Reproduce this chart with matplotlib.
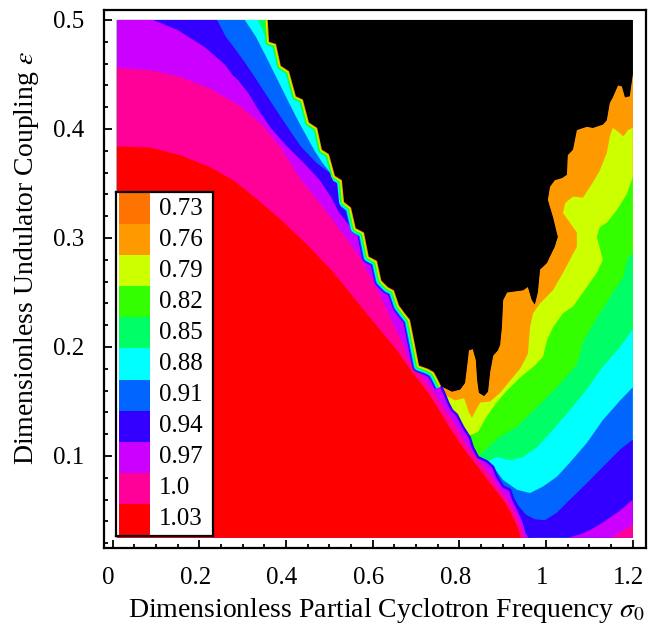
import matplotlib
matplotlib.use("Agg")
import matplotlib.pyplot as plt
from matplotlib.patches import Rectangle
from matplotlib.ticker import FixedLocator, MultipleLocator
from matplotlib.transforms import ScaledTranslation

plt.rcParams["font.family"] = ["Liberation Serif", "DejaVu Serif"]
plt.rcParams["mathtext.fontset"] = "stix"

# ------------------------------------------------------------------ data
LEVELS = [0.73, 0.76, 0.79, 0.82, 0.85, 0.88, 0.91, 0.94, 0.97, 1.00, 1.03]
LEVEL_LABELS = ["0.73", "0.76", "0.79", "0.82", "0.85", "0.88", "0.91",
                "0.94", "0.97", "1.0", "1.03"]
LEVEL_COLORS = ["#FF7300", "#FF9900", "#CCFF00", "#33FF00", "#00FF66", "#00FFFF",
                "#0066FF", "#3300FF", "#CC00FF", "#FF0099", "#FF0000"]
BELOW_COLOR = "#000000"

SIGMA_RANGE = [0.01, 1.2]      # computed domain of sigma_0
EPS_RANGE = [0.025, 0.5]       # computed domain of epsilon

X_TICKS = [0, 0.2, 0.4, 0.6, 0.8, 1.0, 1.2]
X_TICK_LABELS = ["0", "0.2", "0.4", "0.6", "0.8", "1", "1.2"]
Y_TICKS = [0.1, 0.2, 0.3, 0.4, 0.5]
Y_TICK_LABELS = ["0.1", "0.2", "0.3", "0.4", "0.5"]

# jagged ridge where most contour levels pile up (top edge -> bottom edge)
RIDGE_X = [0.358, 0.361, 0.377, 0.388, 0.407, 0.423, 0.439, 0.453, 0.472, 0.483,
           0.499, 0.513, 0.529, 0.534, 0.550, 0.561, 0.580, 0.591, 0.610, 0.620,
           0.635, 0.649, 0.661, 0.674, 0.686, 0.693, 0.700, 0.707, 0.728, 0.741,
           0.748, 0.758, 0.767, 0.774, 0.783, 0.794, 0.808, 0.824, 0.831, 0.843,
           0.864, 0.878, 0.887, 0.901, 0.917, 0.924, 0.933, 0.947, 0.956, 0.963]
RIDGE_Y = [0.500, 0.480, 0.478, 0.458, 0.453, 0.430, 0.427, 0.406, 0.401, 0.381,
           0.377, 0.357, 0.353, 0.333, 0.328, 0.309, 0.305, 0.283, 0.279, 0.261,
           0.255, 0.252, 0.238, 0.231, 0.225, 0.211, 0.197, 0.183, 0.180, 0.177,
           0.172, 0.164, 0.156, 0.149, 0.142, 0.138, 0.127, 0.117, 0.108, 0.099,
           0.095, 0.090, 0.081, 0.072, 0.069, 0.060, 0.053, 0.041, 0.029, 0.025]
RIDGE_V = 31          # lowest ridge point touching the black (< 0.73) region

# lower / right boundary of the black region, from the ridge to the right edge
BLACK_X = [0.783, 0.802, 0.813, 0.818, 0.822, 0.831, 0.838, 0.841, 0.845, 0.857,
           0.866, 0.871, 0.878, 0.889, 0.894, 0.898, 0.901, 0.910, 0.947, 0.958,
           0.967, 0.974, 0.981, 0.986, 1.002, 1.009, 1.020, 1.027, 1.016, 1.004,
           1.009, 1.020, 1.037, 1.048, 1.050, 1.062, 1.071, 1.094, 1.108, 1.131,
           1.140, 1.147, 1.154, 1.166, 1.175, 1.182, 1.193, 1.200]
BLACK_Y = [0.159, 0.161, 0.167, 0.183, 0.197, 0.198, 0.188, 0.170, 0.158, 0.155,
           0.159, 0.177, 0.192, 0.197, 0.202, 0.218, 0.243, 0.250, 0.252, 0.255,
           0.243, 0.239, 0.250, 0.271, 0.277, 0.283, 0.292, 0.301, 0.319, 0.335,
           0.347, 0.353, 0.355, 0.358, 0.376, 0.381, 0.399, 0.402, 0.401, 0.404,
           0.408, 0.424, 0.429, 0.440, 0.439, 0.429, 0.430, 0.450]

# right-hand branches of the U-shaped contours (leave ridge -> right edge)
C079_X = [0.790, 0.811, 0.822, 0.829, 0.838, 0.848, 0.871, 0.894, 0.917, 0.940,
          0.951, 0.958, 0.963, 0.970, 0.986, 1.016, 1.039, 1.055, 1.071, 1.071,
          1.055, 1.039, 1.044, 1.062, 1.085, 1.108, 1.124, 1.140, 1.147, 1.154,
          1.171, 1.178, 1.189, 1.200]
C079_Y = [0.151, 0.153, 0.140, 0.135, 0.142, 0.149, 0.150, 0.158, 0.169, 0.180,
          0.188, 0.194, 0.218, 0.231, 0.240, 0.252, 0.268, 0.280, 0.292, 0.305,
          0.314, 0.323, 0.332, 0.338, 0.337, 0.351, 0.362, 0.378, 0.393, 0.401,
          0.396, 0.393, 0.399, 0.401]
C082_X = [0.824, 0.843, 0.861, 0.882, 0.905, 0.940, 0.974, 0.993, 1.002, 1.016,
          1.039, 1.062, 1.085, 1.117, 1.131, 1.117, 1.124, 1.140, 1.164, 1.187, 1.200]
C082_Y = [0.119, 0.122, 0.135, 0.147, 0.158, 0.172, 0.183, 0.191, 0.206, 0.218,
          0.231, 0.237, 0.250, 0.268, 0.280, 0.301, 0.310, 0.314, 0.326, 0.341, 0.356]
C085_X = [0.861, 0.887, 0.933, 0.979, 1.025, 1.071, 1.085, 1.101, 1.124, 1.154,
          1.178, 1.187, 1.200]
C085_Y = [0.106, 0.116, 0.127, 0.145, 0.163, 0.184, 0.204, 0.216, 0.231, 0.250,
          0.264, 0.280, 0.286]
C088_X = [0.887, 0.917, 0.947, 0.979, 1.016, 1.055, 1.094, 1.131, 1.171, 1.200]
C088_Y = [0.099, 0.096, 0.099, 0.108, 0.124, 0.142, 0.161, 0.182, 0.200, 0.216]
C091_X = [0.901, 0.933, 0.963, 0.993, 1.025, 1.055, 1.094, 1.131, 1.171, 1.200]
C091_Y = [0.078, 0.069, 0.066, 0.072, 0.081, 0.094, 0.112, 0.133, 0.151, 0.163]
C094_X = [0.935, 0.954, 0.974, 0.997, 1.025, 1.055, 1.094, 1.131, 1.171, 1.200]
C094_Y = [0.055, 0.046, 0.042, 0.041, 0.048, 0.060, 0.075, 0.090, 0.106, 0.115]

# upper-left parts of contours (top edge -> where they join the ridge)
C088_TOP_X = [0.335, 0.345, 0.356]
C088_TOP_Y = [0.500, 0.491, 0.482]
C091_TOP_X = [0.305, 0.330, 0.352, 0.372, 0.392, 0.412, 0.430, 0.448, 0.466, 0.484, 0.500]
C091_TOP_Y = [0.500, 0.485, 0.468, 0.452, 0.436, 0.420, 0.406, 0.393, 0.380, 0.369, 0.361]
C094_TOP_X = [0.241, 0.262, 0.274, 0.298, 0.324, 0.350, 0.378, 0.405, 0.434, 0.470, 0.500, 0.520]
C094_TOP_Y = [0.500, 0.484, 0.478, 0.465, 0.450, 0.434, 0.417, 0.401, 0.384, 0.369, 0.360, 0.352]
C097_TOP_X = [0.093, 0.149, 0.213, 0.259, 0.278, 0.289, 0.313, 0.337, 0.365, 0.400,
              0.438, 0.478, 0.503, 0.523, 0.545]
C097_TOP_Y = [0.500, 0.491, 0.475, 0.459, 0.449, 0.445, 0.433, 0.417, 0.401, 0.385,
              0.370, 0.353, 0.338, 0.323, 0.312]
C097_RIGHT_X = [1.050, 1.078, 1.101, 1.131, 1.171, 1.200]
C097_RIGHT_Y = [0.025, 0.028, 0.032, 0.039, 0.050, 0.060]

C100_X = [0.010, 0.086, 0.155, 0.225, 0.294, 0.345, 0.391, 0.432, 0.472, 0.511,
          0.548, 0.575, 0.596, 0.617, 0.636, 0.654, 0.670, 0.681, 0.708, 0.727,
          0.745, 0.762, 0.781, 0.800, 0.817, 0.842, 0.868, 0.889, 0.911, 0.929,
          0.942, 0.951]
C100_Y = [0.456, 0.454, 0.448, 0.437, 0.421, 0.404, 0.381, 0.355, 0.335, 0.315,
          0.295, 0.279, 0.263, 0.247, 0.231, 0.216, 0.203, 0.189, 0.176, 0.166,
          0.156, 0.145, 0.134, 0.122, 0.110, 0.097, 0.085, 0.072, 0.060, 0.048,
          0.036, 0.025]
C100_CORNER_X = [1.152, 1.171, 1.200]
C100_CORNER_Y = [0.025, 0.030, 0.037]

C103_X = [0.010, 0.086, 0.155, 0.225, 0.282, 0.335, 0.393, 0.451, 0.508, 0.561,
          0.610, 0.656, 0.693, 0.728, 0.758, 0.784, 0.815, 0.845, 0.875, 0.901,
          0.919, 0.933, 0.942]
C103_Y = [0.384, 0.383, 0.376, 0.365, 0.352, 0.335, 0.315, 0.293, 0.269, 0.243,
          0.219, 0.197, 0.176, 0.158, 0.139, 0.122, 0.104, 0.089, 0.073, 0.060,
          0.048, 0.036, 0.025]


def pts(xs, ys):
    return list(zip(xs, ys))


R = pts(RIDGE_X, RIDGE_Y)
x0, x1 = SIGMA_RANGE
y0, y1 = EPS_RANGE
BL, TL, BR, TR = (x0, y0), (x0, y1), (x1, y0), (x1, y1)
black_edge = pts(BLACK_X, BLACK_Y)
V = RIDGE_V

# region {value >= level} for every level (drawn from low to high)
REGIONS = [
    [[BL, TL] + R[0:V + 1] + black_edge + [BR]],                                   # 0.73
    [[BL, TL] + R[0:V + 1] + black_edge + [BR]],                                   # 0.76
    [[BL, TL] + R[0:V + 2] + pts(C079_X, C079_Y) + [BR]],                          # 0.79
    [[BL, TL] + R[0:37] + pts(C082_X, C082_Y) + [BR]],                             # 0.82
    [[BL, TL] + R[0:40] + pts(C085_X, C085_Y) + [BR]],                             # 0.85
    [[BL, TL] + pts(C088_TOP_X, C088_TOP_Y) + R[1:41] + pts(C088_X, C088_Y) + [BR]],
    [[BL, TL] + pts(C091_TOP_X, C091_TOP_Y) + R[11:42] + pts(C091_X, C091_Y) + [BR]],
    [[BL, TL] + pts(C094_TOP_X, C094_TOP_Y) + R[13:45] + pts(C094_X, C094_Y) + [BR]],
    [[BL, TL] + pts(C097_TOP_X, C097_TOP_Y) + R[16:], [BR] + pts(C097_RIGHT_X, C097_RIGHT_Y)],
    [[BL] + pts(C100_X, C100_Y), [BR] + pts(C100_CORNER_X, C100_CORNER_Y)],
    [[BL] + pts(C103_X, C103_Y)],
]
BLACK_REGION = R[0:V + 1] + black_edge + [TR]

# ------------------------------------------------------------------ figure
W, H = 662, 627
fig = plt.figure(figsize=(W / 100, H / 100), dpi=100)
ax = fig.add_axes([104 / W, 1 - 548 / H, 542 / W, 538.5 / H])
ax.set_xlim(-0.0198, 1.2305)
ax.set_ylim(0.0156, 0.5096)

def fill(poly, color, z):
    xs, ys = zip(*poly)
    ax.fill(xs, ys, color=color, lw=0, zorder=z)

fill(BLACK_REGION, BELOW_COLOR, 1.0)
for k, (polys, col) in enumerate(zip(REGIONS, LEVEL_COLORS)):
    for poly in polys:
        fill(poly, col, 1.1 + 0.01 * k)

# thin bands stacked along the ridge
clip = Rectangle((x0, y0), x1 - x0, y1 - y0, transform=ax.transData)
pxpt = 72.0 / fig.dpi
band = 1.0
stroke_specs = [(7, 16, 7), (6, 13, 6), (5, 11, 5), (4, 0, 4), (3, 0, 3), (2, 0, 2), (1, 0, 1)]
for lev, start, hw in stroke_specs:
    ln, = ax.plot(RIDGE_X[start:V + 1], RIDGE_Y[start:V + 1], color=LEVEL_COLORS[lev],
                  lw=2 * hw * band * pxpt, solid_capstyle="butt",
                  solid_joinstyle="round", zorder=3)
    ln.set_clip_path(clip)
ln, = ax.plot(RIDGE_X[V:], RIDGE_Y[V:], color=LEVEL_COLORS[7], lw=2.4 * pxpt,
              solid_capstyle="butt", zorder=3)
ln.set_clip_path(clip)
fill(BLACK_REGION, BELOW_COLOR, 4)

# axes styling
for s in ax.spines.values():
    s.set_linewidth(1.6)
    s.set_color("black")
ax.xaxis.set_major_locator(FixedLocator(X_TICKS))
ax.set_xticklabels(X_TICK_LABELS)
ax.yaxis.set_major_locator(FixedLocator(Y_TICKS))
ax.set_yticklabels(Y_TICK_LABELS)
ax.xaxis.set_minor_locator(MultipleLocator(0.05))
ax.yaxis.set_minor_locator(MultipleLocator(0.02))
ax.tick_params(which="both", direction="in", top=False, right=False, width=1.3)
ax.tick_params(which="major", length=6, labelsize=18)
ax.tick_params(axis="x", which="major", pad=14)
ax.tick_params(axis="y", which="major", pad=14)
ax.tick_params(which="minor", length=3)
shift = ScaledTranslation(-4 / 100, 0, fig.dpi_scale_trans)
for lbl in ax.get_xticklabels():
    lbl.set_transform(lbl.get_transform() + shift)

fig.text(386 / W, 1 - 617 / H, r"Dimensionless Partial Cyclotron Frequency $\sigma_0$",
         ha="center", va="baseline", fontsize=20)
fig.text(27 / W, 1 - 258 / H, r"Dimensionless Undulator Coupling $\varepsilon$",
         ha="center", va="center", rotation=90, fontsize=20)

# legend
lax = fig.add_axes([116 / W, 1 - 536 / H, 97 / W, 344 / H])
n = len(LEVELS)
lax.set_xlim(0, 1)
lax.set_ylim(-0.035, n + 0.035)
lax.set_xticks([])
lax.set_yticks([])
for s in lax.spines.values():
    s.set_linewidth(1.6)
    s.set_color("black")
for i, (lab, col) in enumerate(zip(LEVEL_LABELS, LEVEL_COLORS)):
    row = n - 1 - i
    lax.add_patch(Rectangle((0.031, row), 0.32, 1, color=col, lw=0))
    lax.text(0.443, row + 0.5, lab, ha="left", va="center", fontsize=18)

fig.savefig("out.png", dpi=100)
